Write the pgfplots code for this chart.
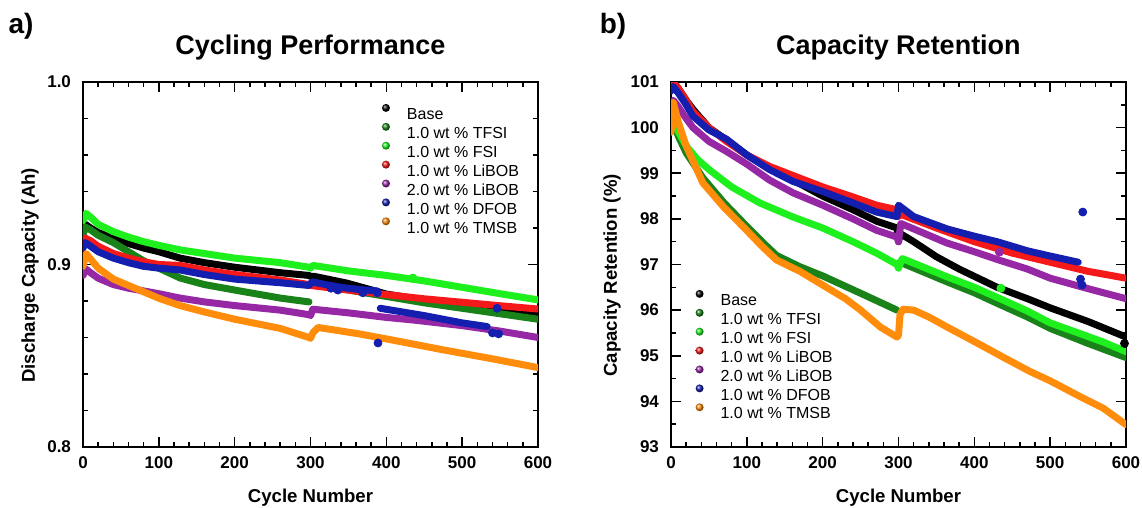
\documentclass[border=0pt]{standalone}
\usepackage{pgfplots}
\pgfplotsset{compat=1.18}
\usepackage{fontspec}
\setmainfont{Liberation Sans}
\definecolor{cBase}{RGB}{0,0,0}
\definecolor{cTFSI}{RGB}{25,130,25}
\definecolor{cFSI}{RGB}{30,240,30}
\definecolor{cLiBOB}{RGB}{245,25,25}
\definecolor{cLiBOBb}{RGB}{150,40,165}
\definecolor{cDFOB}{RGB}{20,30,175}
\definecolor{cTMSB}{RGB}{255,140,10}
\pgfplotsset{
  ser/.style={line width=3.5pt, line join=round, line cap=round, color=#1, mark=none,
    legend image code/.code={\shade[ball color=#1, draw=none, line width=0pt] (0pt,2.6pt) circle (2pt);}},
  dot/.style={only marks, mark=*, mark size=2pt, color=#1, forget plot},
  panel/.style={
    scale only axis, width=227.5pt, height=182.5pt,
    xmin=0, xmax=600, xtick={0,100,...,600}, minor x tick num=4,
    tick align=inside, major tick length=5pt, minor tick length=2.5pt,
    every tick/.style={line width=0.8pt, black},
    axis line style={line width=1pt},
    /pgf/number format/assume math mode=true,
    ticklabel style={font=\fontsize{8.5}{10}\selectfont\bfseries},
    yticklabel style={xshift=-2.5pt},
    xticklabel style={yshift=-1.5pt},
    xlabel={Cycle Number},
    xlabel style={font=\fontsize{9.3}{11}\selectfont\bfseries, at={(axis description cs:0.5,0)}, anchor=center, yshift=-25.5pt},
    title style={font=\fontsize{13.5}{16}\selectfont\bfseries, at={(axis description cs:0.5,1)}, anchor=center, yshift=11pt},
    unbounded coords=jump,
    legend cell align=left,
    legend style={draw=none, fill=none, font=\fontsize{8}{9.5}\selectfont,
      row sep=1.6pt, column sep=8.5pt,
      nodes={inner sep=0pt, text height=6.5pt, text depth=0pt}},
  }
}
\begin{document}
\begin{tikzpicture}
\path[use as bounding box] (0,0) rectangle (571pt,254pt);
\node[font=\fontsize{14}{16}\selectfont\bfseries] at (10.5pt,241pt) {a)};
\node[font=\fontsize{14}{16}\selectfont\bfseries] at (306.5pt,241pt) {b)};
% ---------------- left panel
\begin{axis}[panel, at={(41.5pt,30.5pt)}, anchor=south west,
  ymin=0.8, ymax=1.0, ytick={0.8,0.9,1.0}, yticklabels={0.8,0.9,1.0}, minor y tick num=4,
  title={Cycling Performance},
  ylabel={Discharge Capacity (Ah)},
  ylabel style={font=\fontsize{9.3}{11}\selectfont\bfseries, at={(axis description cs:-0.1165,0.47)}, anchor=center},
  legend style={at={(rel axis cs:0.643,0.952)}, anchor=north west}]
\addplot[ser=cBase] coordinates {(0,0.919)(3,0.922)(10,0.920)(20,0.9175)(40,0.9145)(60,0.9115)(80,0.909)(100,0.907)(128,0.9035)(160,0.901)(200,0.8985)(230,0.897)(260,0.8955)(298,0.894)(300,0.8935)(305,0.8935)(348,0.8898)(400,0.8838)(450,0.8805)(500,0.8778)(550,0.8752)(600,0.873)};
\addlegendentry{Base}
\addplot[ser=cTFSI] coordinates {(0,0.916)(3,0.9205)(10,0.919)(20,0.916)(40,0.912)(60,0.907)(80,0.902)(100,0.898)(128,0.8926)(160,0.889)(200,0.886)(230,0.8838)(260,0.8816)(298,0.8795)(300,nan)(302,0.889)(350,0.886)(400,0.8825)(450,0.879)(500,0.876)(550,0.873)(600,0.870)};
\addlegendentry{1.0 wt \% TFSI}
\addplot[ser=cFSI] coordinates {(0,0.924)(4,0.928)(10,0.926)(20,0.922)(40,0.918)(60,0.915)(80,0.9125)(100,0.9105)(128,0.908)(160,0.906)(200,0.9035)(260,0.901)(298,0.8985)(300,0.898)(303,0.8995)(350,0.8965)(400,0.894)(450,0.891)(500,0.8875)(550,0.884)(600,0.8806)};
\addlegendentry{1.0 wt \% FSI}
\addplot[ser=cLiBOB] coordinates {(0,0.911)(3,0.9145)(10,0.913)(20,0.910)(40,0.906)(60,0.9035)(80,0.9015)(100,0.900)(128,0.8995)(160,0.897)(200,0.8945)(260,0.8915)(298,0.889)(300,0.8885)(350,0.886)(400,0.8835)(450,0.8812)(500,0.8793)(550,0.8774)(600,0.8756)};
\addlegendentry{1.0 wt \% LiBOB}
\addplot[ser=cLiBOBb] coordinates {(0,0.894)(4,0.8975)(10,0.8955)(20,0.8925)(40,0.889)(60,0.887)(80,0.8855)(100,0.884)(128,0.8816)(160,0.8795)(200,0.8775)(260,0.875)(298,0.8725)(300,0.872)(303,0.8755)(350,0.8735)(400,0.871)(435,0.8696)(500,0.8665)(550,0.8635)(600,0.860)};
\addlegendentry{2.0 wt \% LiBOB}
\addplot[ser=cDFOB] coordinates {(0,0.909)(3,0.912)(10,0.910)(20,0.907)(40,0.9035)(60,0.901)(80,0.899)(100,0.898)(128,0.897)(160,0.8945)(200,0.892)(260,0.890)(298,0.8885)(302,0.8905)(320,0.889)(340,0.8875)(360,0.8865)(388,0.8855)(390,nan)(392,0.876)(450,0.872)(500,0.868)(533,0.866)};
\addlegendentry{1.0 wt \% DFOB}
\addplot[ser=cTMSB] coordinates {(0,0.899)(4,0.906)(10,0.903)(20,0.898)(40,0.892)(60,0.8885)(80,0.885)(100,0.8815)(128,0.8775)(160,0.874)(200,0.870)(230,0.8675)(260,0.865)(298,0.860)(300,0.8595)(303,0.8625)(310,0.8655)(364,0.862)(408,0.8586)(474,0.8533)(540,0.8483)(600,0.8435)};
\addlegendentry{1.0 wt \% TMSB}
\addplot[dot=cFSI] coordinates {(435,0.8926)};
\addplot[dot=cDFOB] coordinates {(327,0.887)(336,0.886)(369,0.8845)(388,0.8845)(389,0.857)(546,0.876)(540,0.8625)(548,0.862)};
\end{axis}
% ---------------- right panel
\begin{axis}[panel, at={(335.5pt,30.5pt)}, anchor=south west,
  ymin=93, ymax=101, ytick={93,94,...,101}, minor y tick num=1,
  title={Capacity Retention},
  ylabel={Capacity Retention (\%)},
  ylabel style={font=\fontsize{9.3}{11}\selectfont\bfseries, at={(axis description cs:-0.1297,0.47)}, anchor=center},
  legend style={at={(rel axis cs:0.04,0.4425)}, anchor=north west}]
\addplot[ser=cBase] coordinates {(0,100.85)(3,101.0)(10,100.85)(20,100.6)(29,100.4)(50,100.0)(73,99.73)(100,99.4)(130,99.1)(161,98.85)(200,98.5)(240,98.2)(271,97.95)(298,97.8)(300,97.5)(302,97.68)(320,97.5)(350,97.17)(380,96.9)(430,96.5)(470,96.25)(500,96.05)(550,95.75)(600,95.41)};
\addlegendentry{Base}
\addplot[ser=cTFSI] coordinates {(0,100.0)(3,100.1)(10,99.8)(20,99.45)(42,98.9)(70,98.35)(95,97.92)(120,97.5)(139,97.2)(170,96.95)(200,96.75)(250,96.37)(298,96.0)(300,nan)(302,97.05)(364,96.62)(400,96.38)(430,96.15)(470,95.85)(500,95.6)(550,95.27)(600,94.96)};
\addlegendentry{1.0 wt \% TFSI}
\addplot[ser=cFSI] coordinates {(0,100.0)(3,100.2)(10,99.9)(20,99.6)(35,99.3)(51,99.07)(80,98.7)(117,98.35)(161,98.04)(200,97.8)(240,97.5)(271,97.25)(298,97.0)(300,96.92)(305,97.13)(364,96.73)(400,96.5)(430,96.28)(470,95.98)(500,95.72)(537,95.5)(570,95.3)(600,95.09)};
\addlegendentry{1.0 wt \% FSI}
\addplot[ser=cLiBOB] coordinates {(0,100.85)(3,101.0)(10,100.85)(20,100.6)(29,100.35)(50,100.0)(73,99.7)(100,99.4)(130,99.15)(161,98.95)(200,98.7)(240,98.48)(271,98.3)(298,98.2)(300,98.05)(303,98.1)(350,97.8)(400,97.5)(450,97.25)(500,97.05)(550,96.85)(600,96.70)};
\addlegendentry{1.0 wt \% LiBOB}
\addplot[ser=cLiBOBb] coordinates {(0,100.45)(3,100.6)(10,100.45)(20,100.2)(29,100.0)(50,99.7)(73,99.48)(100,99.2)(130,98.85)(161,98.57)(200,98.3)(240,98.0)(271,97.75)(298,97.6)(300,97.5)(303,97.9)(364,97.47)(400,97.28)(432,97.1)(470,96.9)(500,96.7)(550,96.47)(600,96.25)};
\addlegendentry{2.0 wt \% LiBOB}
\addplot[ser=cDFOB] coordinates {(0,100.8)(3,100.9)(10,100.75)(20,100.5)(29,100.25)(50,99.95)(73,99.75)(100,99.4)(130,99.08)(161,98.82)(200,98.6)(240,98.35)(271,98.15)(298,98.05)(300,98.3)(320,98.05)(364,97.78)(400,97.62)(430,97.5)(470,97.3)(496,97.2)(537,97.05)};
\addlegendentry{1.0 wt \% DFOB}
\addplot[ser=cTMSB] coordinates {(0,99.9)(3,100.55)(10,100.1)(20,99.6)(42,98.79)(70,98.25)(95,97.83)(120,97.4)(139,97.1)(170,96.85)(200,96.55)(230,96.25)(250,96.0)(276,95.63)(298,95.41)(300,95.45)(302,95.9)(306,96.02)(320,96.0)(340,95.85)(364,95.63)(408,95.24)(440,94.95)(474,94.65)(500,94.45)(540,94.1)(570,93.85)(600,93.49)};
\addlegendentry{1.0 wt \% TMSB}
\addplot[dot=cBase] coordinates {(598,95.27)};
\addplot[dot=cFSI] coordinates {(435,96.48)};
\addplot[dot=cLiBOBb] coordinates {(433,97.27)};
\addplot[dot=cDFOB] coordinates {(543,98.15)(540,96.68)(542,96.55)};
\end{axis}
\end{tikzpicture}
\end{document}
